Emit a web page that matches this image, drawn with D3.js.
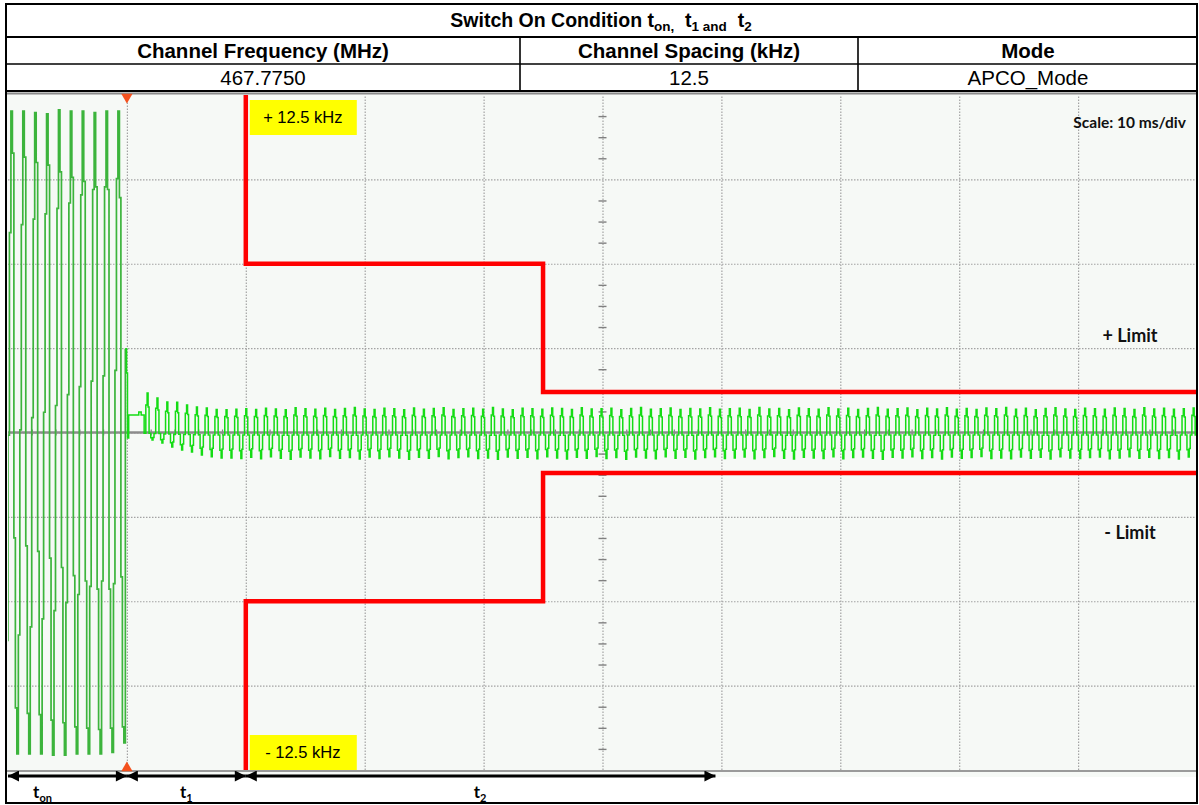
<!DOCTYPE html>
<html><head><meta charset="utf-8">
<script src="https://cdn.jsdelivr.net/npm/d3@7"></script>
<style>
body{margin:0;background:#fff;}
svg{display:block;}
</style></head><body>
<svg id="c" width="1199" height="805"></svg>
<script>
// ---------------- DATA ----------------
const tableTitle = ["Switch On Condition t", "on,", "  t", "1 and", "  t", "2"];
const headerTitles = ["Channel Frequency (MHz)", "Channel Spacing (kHz)", "Mode"];
const headerValues = ["467.7750", "12.5", "APCO_Mode"];

// time axis (ms), 10 ms/div ; frequency axis (kHz), 3.125 kHz/div
const timeTicks = [0, 10, 20, 30, 40, 50, 60, 70, 80, 90, 100];
const freqTicks = [-12.5, -9.375, -6.25, -3.125, 0, 3.125, 6.25, 9.375, 12.5];
const timeMinorStep = 2;        // 5 sub-divisions
const freqMinorStep = 0.78125;  // 4 sub-divisions

// limit mask (ms, kHz)
const upperLimit = [[20, 12.5], [20, 6.25], [45, 6.25], [45, 1.5], [100, 1.5]];
const lowerLimit = [[20, -12.5], [20, -6.25], [45, -6.25], [45, -1.5], [100, -1.5]];
const triggerTime = 10;

// t_on segment: 10 cycles, eight held levels per cycle (kHz)
const onStart = -0.13, onPeriod = 1.0;
const onRiseLow  = [-7.7, -7.5, -7.2, -6.9, -6.6, -6.3, -6.0, -5.7, -5.5, -5.6];
const onRiseMid  = [-0.1, 0.1, 0.55, 0.75, 1.0, 1.4, 1.7, 1.9, 2.1, 2.3];
const onRiseHigh = [7.4, 7.7, 7.9, 8.1, 8.3, 8.5, 8.8, 9.0, 9.1, 9.4];
const onPeak     = [11.9, 11.9, 11.85, 11.8, 11.95, 11.9, 11.9, 11.85, 11.9, 11.9];
const onFallHigh = [10.35, 10.2, 10.0, 9.9, 9.65, 9.45, 9.3, 9.1, 9.0, 8.7];
const onFallMid  = [-3.9, -4.2, -4.4, -4.65, -5.0, -5.3, -5.5, -5.8, -5.8, -5.35];
const onFallLow  = [-10.2, -10.4, -10.45, -10.65, -10.75, -10.9, -10.95, -11.0, -10.95, -10.9];
const onTrough   = [-11.9, -11.9, -11.9, -11.95, -11.95, -11.9, -11.9, -11.9, -11.85, -11.5];

// switch-over after t_on (ms, kHz)
const transition = [[9.87, 3.1], [9.97, 2.2], [10.05, -0.2], [10.15, 0.65], [11.0, 0.76], [11.2, 0.65]];

// settling oscillation: per-cycle peak / trough (kHz)
const settleStart = 11.45, settlePeriod = 0.83;
const settlePeaks = [1.46,1.28,1.13,1.12,1.02,0.94,0.91,0.85,0.84,0.86,
0.88,0.85,0.90,0.87,0.84,0.92,0.88,0.86,0.90,0.85,
0.89,0.93,0.87,0.85,0.90,0.88,0.84,0.91,0.86,0.89,
0.92,0.85,0.88,0.90,0.86,0.93,0.87,0.84,0.90,0.88,
0.86,0.91,0.89,0.85,0.92,0.87,0.88,0.90,0.84,0.89,
0.93,0.86,0.88,0.91,0.85,0.89,0.87,0.92,0.86,0.88,
0.90,0.85,0.93,0.87,0.89,0.84,0.91,0.88,0.86,0.92,
0.87,0.90,0.85,0.89,0.93,0.86,0.88,0.91,0.84,0.90,
0.87,0.92,0.86,0.89,0.85,0.91,0.88,0.93,0.86,0.90,
0.84,0.89,0.92,0.87,0.85,0.90,0.88,0.86,0.91,0.89,
0.85,0.92,0.87,0.90,0.86,0.88,0.91];
const settleTroughs = [-0.28,-0.39,-0.54,-0.65,-0.72,-0.83,-0.90,-0.94,-0.94,-0.96,
-0.92,-0.97,-0.90,-0.95,-0.99,-0.91,-0.94,-0.97,-0.89,-0.95,
-0.93,-0.98,-0.91,-0.96,-0.90,-0.94,-0.99,-0.92,-0.95,-0.89,
-0.97,-0.93,-0.90,-0.96,-0.94,-0.99,-0.91,-0.95,-0.92,-0.97,
-0.90,-0.94,-0.98,-0.92,-0.95,-0.89,-0.96,-0.93,-0.99,-0.91,
-0.94,-0.97,-0.90,-0.95,-0.92,-0.98,-0.93,-0.90,-0.96,-0.94,
-0.91,-0.97,-0.93,-0.89,-0.95,-0.98,-0.92,-0.94,-0.96,-0.90,
-0.97,-0.93,-0.91,-0.95,-0.99,-0.92,-0.94,-0.90,-0.96,-0.93,
-0.98,-0.91,-0.95,-0.93,-0.89,-0.96,-0.94,-0.97,-0.91,-0.95,
-0.92,-0.98,-0.90,-0.94,-0.96,-0.93,-0.91,-0.97,-0.94,-0.90,
-0.95,-0.92,-0.96,-0.93,-0.98,-0.91,-0.94];
// shape of one held-sample cycle: [fraction of period, fraction of peak(+)/trough(-)]
const cycleShape = [[0.00, -0.1], [0.17, 0.7], [0.30, 1.0], [0.40, 0.65], [0.50, -0.1], [0.67, -0.7], [0.80, -1.0], [0.90, -0.65]];

// annotations
const limitLabels = [{text: "+ 12.5 kHz", f: 12.5}, {text: "- 12.5 kHz", f: -12.5}];
const phases = [
  {sub: "on", start: 0, end: 10, labelAt: 2.9},
  {sub: "1", start: 10, end: 20, labelAt: 15},
  {sub: "2", start: 20, end: 59.5, labelAt: 39.7}
];

// ---------------- DRAW ----------------
const svg = d3.select("#c");
const PX0 = 8, PX1 = 1197, PY0 = 95, PY1 = 770;
const x = d3.scaleLinear().domain([0, 100]).range([PX0, PX1]);
const y = d3.scaleLinear().domain([-12.5, 12.5]).range([PY1, PY0]);
const ARIAL = "'Liberation Sans', Arial, sans-serif";
const CAL = "Lato, 'Open Sans', sans-serif";

// table rows
const tbl = svg.append("g");
tbl.append("text").attr("x", 601).attr("y", 27).attr("text-anchor", "middle")
  .attr("font-family", ARIAL).attr("font-weight", "bold").attr("font-size", 19.5)
  .selectAll("tspan").data(tableTitle).join("tspan")
  .attr("font-size", (d, i) => i % 2 ? 13.5 : 19.5)
  .attr("dy", (d, i) => i === 0 ? 0 : (i % 2 ? 4 : -4))
  .attr("xml:space", "preserve")
  .style("white-space", "pre")
  .text(d => d);

const colC = [263, 689, 1028];
tbl.selectAll("text.h").data(headerTitles).join("text").attr("class", "h")
  .attr("x", (d, i) => colC[i]).attr("y", 58).attr("text-anchor", "middle")
  .attr("font-family", ARIAL).attr("font-weight", "bold").attr("font-size", 20.5).text(d => d);
tbl.selectAll("text.v").data(headerValues).join("text").attr("class", "v")
  .attr("x", (d, i) => colC[i]).attr("y", 85).attr("text-anchor", "middle")
  .attr("font-family", ARIAL).attr("font-size", 20.5).text(d => d);

// plot background
const plot = svg.append("g");
plot.append("rect").attr("x", 7).attr("y", 92).attr("width", 1190).attr("height", 685).attr("fill", "#f6f9f6");
plot.append("line").attr("x1", 7).attr("x2", 1197).attr("y1", 93.5).attr("y2", 93.5).attr("stroke", "#8a8a8a").attr("stroke-width", 2);
plot.append("line").attr("x1", 7).attr("x2", 1197).attr("y1", PY1 + 1).attr("y2", PY1 + 1).attr("stroke", "#9a9a9a").attr("stroke-width", 2);

// grid via axes
const gx = plot.append("g").attr("transform", `translate(0,${PY1})`)
  .call(d3.axisBottom(x).tickValues(timeTicks.slice(1, -1)).tickSize(-(PY1 - PY0)).tickFormat(""));
const gy = plot.append("g").attr("transform", `translate(${PX0},0)`)
  .call(d3.axisLeft(y).tickValues(freqTicks.slice(1, -1)).tickSize(-(PX1 - PX0)).tickFormat(""));
[gx, gy].forEach(g => {
  g.select(".domain").remove();
  g.selectAll(".tick line").attr("stroke", "#a3a3a3").attr("stroke-width", 1.2).attr("stroke-dasharray", "1.5,1.5");
});

// minor ticks on centre lines
const xMinor = d3.range(0, 100.01, timeMinorStep).filter(v => v % 10 !== 0);
const yMinor = d3.range(-12.5, 12.51, freqMinorStep).filter(v => Math.abs((v / 3.125) - Math.round(v / 3.125)) > 1e-6);
const mx = plot.append("g").attr("transform", `translate(0,${y(0)})`)
  .call(d3.axisBottom(x).tickValues(xMinor).tickSize(3).tickFormat(""));
mx.select(".domain").remove();
mx.selectAll(".tick line").attr("y1", -3).attr("y2", 3).attr("stroke", "#808080").attr("stroke-width", 1.2);
const my = plot.append("g").attr("transform", `translate(${x(50)},0)`)
  .call(d3.axisLeft(y).tickValues(yMinor).tickSize(3).tickFormat(""));
my.select(".domain").remove();
my.selectAll(".tick line").attr("x1", -4).attr("x2", 4).attr("stroke", "#808080").attr("stroke-width", 1.4);

// centre horizontal reference line
plot.append("line").attr("x1", PX0).attr("x2", PX1).attr("y1", y(0)).attr("y2", y(0))
  .attr("stroke", "#8c8c8c").attr("stroke-width", 2.5);

// waveform
svg.append("defs").append("clipPath").attr("id", "clip")
  .append("rect").attr("x", PX0).attr("y", PY0).attr("width", PX1 - PX0).attr("height", PY1 - PY0);

const onPts = [];
const onLevels = [onRiseLow, onRiseMid, onRiseHigh, onPeak, onFallHigh, onFallMid, onFallLow, onTrough];
onPeak.forEach((p, c) => {
  onLevels.forEach((arr, k) => {
    onPts.push([onStart + (c + k / onLevels.length) * onPeriod, arr[c]]);
  });
});
const settlePts = [];
transition.forEach(p => settlePts.push(p));
settlePeaks.forEach((pk, c) => {
  const tr = settleTroughs[c];
  cycleShape.forEach(([fr, lv]) => {
    settlePts.push([settleStart + (c + fr) * settlePeriod, lv >= 0 ? lv * pk : -lv * tr]);
  });
});
settlePts.push([100.5, settlePts[settlePts.length - 1][1]]);
onPts.push(transition[0]);

const line = d3.line().x(d => x(d[0])).y(d => y(d[1])).curve(d3.curveStepAfter);
const wave = svg.append("g").attr("clip-path", "url(#clip)");
wave.append("path").attr("d", line(onPts)).attr("fill", "none")
  .attr("stroke", "#3cb43c").attr("stroke-width", 1.7).attr("stroke-linejoin", "miter");
wave.append("path").attr("d", line(settlePts)).attr("fill", "none")
  .attr("stroke", "#14dc14").attr("stroke-width", 1.5);

// limit mask
const lim = d3.line().x(d => x(d[0])).y(d => y(d[1]));
[upperLimit, lowerLimit].forEach(L => {
  svg.append("path").attr("d", lim(L)).attr("fill", "none").attr("stroke", "#ff0000")
    .attr("stroke-width", 4.5).attr("stroke-linejoin", "miter").attr("clip-path", "url(#clip)");
});

// yellow labels
const ly = svg.append("g");
limitLabels.forEach(l => {
  const top = l.f > 0 ? y(l.f) + 5 : y(l.f) - 35;
  ly.append("rect").attr("x", x(20) + 4).attr("y", top).attr("width", 107).attr("height", 35).attr("fill", "#ffff00");
  ly.append("text").attr("x", x(20) + 4 + 53).attr("y", top + 23).attr("text-anchor", "middle")
    .attr("font-family", ARIAL).attr("font-size", 16.5).text(l.text);
});

// trigger markers
const tri = d3.symbol().type(d3.symbolTriangle).size(55);
svg.append("path").attr("d", tri()).attr("fill", "#f4511e")
  .attr("transform", `translate(${x(triggerTime)},${PY0 + 2}) rotate(180)`);
svg.append("path").attr("d", tri()).attr("fill", "#f4511e")
  .attr("transform", `translate(${x(triggerTime)},${PY1 - 2})`);

// right labels
const rt = svg.append("g").attr("font-family", CAL).attr("font-weight", "bold").attr("fill", "#111");
rt.append("text").attr("x", 1186).attr("y", 128).attr("text-anchor", "end").attr("font-size", 15.5).text("Scale: 10 ms/div");
rt.append("text").attr("x", 1130).attr("y", 342).attr("text-anchor", "middle").attr("font-size", 18).text("+ Limit");
rt.append("text").attr("x", 1130).attr("y", 539).attr("text-anchor", "middle").attr("font-size", 18).text("- Limit");

// phase arrows
const defs = svg.select("defs");
defs.append("marker").attr("id", "ah").attr("viewBox", "0 0 10 10").attr("refX", 10).attr("refY", 5)
  .attr("markerWidth", 13).attr("markerHeight", 11).attr("markerUnits", "userSpaceOnUse")
  .attr("orient", "auto-start-reverse")
  .append("path").attr("d", "M0,0 L10,5 L0,10 Z").attr("fill", "#000");
const AY = 776;
phases.forEach(p => {
  svg.append("line").attr("x1", x(p.start)).attr("x2", x(p.end)).attr("y1", AY).attr("y2", AY)
    .attr("stroke", "#000").attr("stroke-width", 3)
    .attr("marker-start", "url(#ah)").attr("marker-end", "url(#ah)");
  const t = svg.append("text").attr("x", x(p.labelAt)).attr("y", 798).attr("text-anchor", "middle")
    .attr("font-family", CAL).attr("font-weight", "bold").attr("font-size", 17);
  t.append("tspan").text("t");
  t.append("tspan").attr("font-size", 11).attr("dy", 4).text(p.sub);
});

// table lines (on top)
const tl = svg.append("g").attr("stroke", "#000");
tl.append("rect").attr("x", 6).attr("y", 4).attr("width", 1191).attr("height", 799).attr("fill", "none").attr("stroke-width", 2);
[[37, 2], [64, 1.6], [91, 2]].forEach(([yy, w]) => tl.append("line").attr("x1", 6).attr("x2", 1197).attr("y1", yy).attr("y2", yy).attr("stroke-width", w));
[520, 858].forEach(xx => tl.append("line").attr("x1", xx).attr("x2", xx).attr("y1", 37).attr("y2", 91).attr("stroke-width", 1.6));
</script>
</body></html>
